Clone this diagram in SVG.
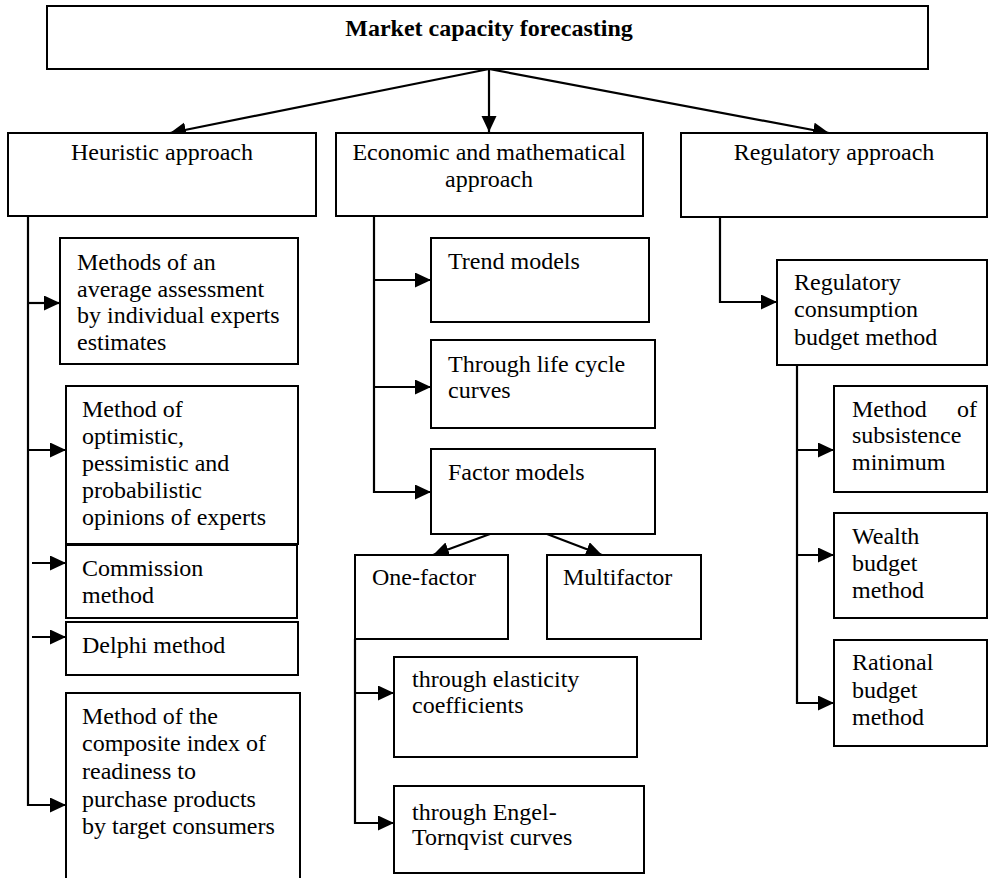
<svg xmlns="http://www.w3.org/2000/svg" width="988" height="878" viewBox="0 0 988 878">
<style>
.box{fill:#fff;stroke:#000;stroke-width:2}
.t{font-family:"Liberation Serif","Times New Roman",serif;font-size:24px;fill:#000}
.b{font-weight:bold;text-anchor:middle}
.c{text-anchor:middle}
.ln{fill:none;stroke:#000;stroke-width:2.2}
</style>
<defs>
<marker id="ah" markerUnits="userSpaceOnUse" markerWidth="18" markerHeight="16" refX="16" refY="7.5" orient="auto">
<path d="M0,0 L16,7.5 L0,15 z" fill="#000"/>
</marker>
</defs>
<g id="connectors">
<line class="ln" x1="489" y1="69" x2="489" y2="132" marker-end="url(#ah)"/>
<line class="ln" x1="489" y1="69" x2="170" y2="133" marker-end="url(#ah)"/>
<line class="ln" x1="489" y1="69" x2="829" y2="133" marker-end="url(#ah)"/>
<polyline class="ln" points="28,216 28,805 66,805" marker-end="url(#ah)"/>
<line class="ln" x1="28" y1="303" x2="60" y2="303" marker-end="url(#ah)"/>
<line class="ln" x1="28" y1="450" x2="66" y2="450" marker-end="url(#ah)"/>
<line class="ln" x1="32" y1="563" x2="66" y2="563" marker-end="url(#ah)"/>
<line class="ln" x1="32" y1="637" x2="66" y2="637" marker-end="url(#ah)"/>
<polyline class="ln" points="374,216 374,492 431,492" marker-end="url(#ah)"/>
<line class="ln" x1="374" y1="280" x2="431" y2="280" marker-end="url(#ah)"/>
<line class="ln" x1="374" y1="387" x2="431" y2="387" marker-end="url(#ah)"/>
<line class="ln" x1="490" y1="534" x2="433" y2="555" marker-end="url(#ah)"/>
<line class="ln" x1="547" y1="534" x2="602" y2="555" marker-end="url(#ah)"/>
<polyline class="ln" points="355,639 355,823 394,823" marker-end="url(#ah)"/>
<line class="ln" x1="355" y1="693" x2="394" y2="693" marker-end="url(#ah)"/>
<polyline class="ln" points="720,217 720,302 777,302" marker-end="url(#ah)"/>
<polyline class="ln" points="797,365 797,703 834,703" marker-end="url(#ah)"/>
<line class="ln" x1="797" y1="450" x2="834" y2="450" marker-end="url(#ah)"/>
<line class="ln" x1="797" y1="555" x2="834" y2="555" marker-end="url(#ah)"/>
</g>
<g id="n-top"><rect class="box" x="47" y="6" width="881" height="63"/><text class="t b" x="489" y="36">Market capacity forecasting</text></g>
<g id="n-heur"><rect class="box" x="8" y="133" width="308" height="83"/><text class="t c" x="162" y="160">Heuristic approach</text></g>
<g id="n-econ"><rect class="box" x="336" y="133" width="307" height="83"/><text class="t c" x="489" y="160">Economic and mathematical</text><text class="t c" x="489" y="187">approach</text></g>
<g id="n-reg"><rect class="box" x="681" y="133" width="306" height="84"/><text class="t c" x="834" y="160">Regulatory approach</text></g>
<g id="n-avg"><rect class="box" x="60" y="238" width="238" height="126"/><text class="t" x="77" y="270">Methods of an</text><text class="t" x="77" y="297">average assessment</text><text class="t" x="77" y="323">by individual experts</text><text class="t" x="77" y="350">estimates</text></g>
<g id="n-opt"><rect class="box" x="66" y="386" width="232" height="158"/><text class="t" x="82" y="417">Method of</text><text class="t" x="82" y="444">optimistic,</text><text class="t" x="82" y="471">pessimistic and</text><text class="t" x="82" y="498">probabilistic</text><text class="t" x="82" y="525">opinions of experts</text></g>
<g id="n-comm"><rect class="box" x="66" y="545" width="231" height="73"/><text class="t" x="82" y="576">Commission</text><text class="t" x="82" y="603">method</text></g>
<g id="n-delphi"><rect class="box" x="66" y="622" width="232" height="53"/><text class="t" x="82" y="653">Delphi method</text></g>
<g id="n-comp"><rect class="box" x="66" y="693" width="234" height="200"/><text class="t" x="82" y="724">Method of the</text><text class="t" x="82" y="751">composite index of</text><text class="t" x="82" y="779">readiness to</text><text class="t" x="82" y="807">purchase products</text><text class="t" x="82" y="834">by target consumers</text></g>
<g id="n-trend"><rect class="box" x="431" y="238" width="218" height="84"/><text class="t" x="448" y="269">Trend models</text></g>
<g id="n-life"><rect class="box" x="431" y="340" width="224" height="88"/><text class="t" x="448" y="372">Through life cycle</text><text class="t" x="448" y="398">curves</text></g>
<g id="n-factor"><rect class="box" x="431" y="449" width="224" height="85"/><text class="t" x="448" y="480">Factor models</text></g>
<g id="n-one"><rect class="box" x="355" y="555" width="153" height="84"/><text class="t" x="372" y="585">One-factor</text></g>
<g id="n-multi"><rect class="box" x="547" y="555" width="154" height="84"/><text class="t" x="563" y="585">Multifactor</text></g>
<g id="n-elast"><rect class="box" x="394" y="657" width="243" height="100"/><text class="t" x="412" y="687">through elasticity</text><text class="t" x="412" y="713">coefficients</text></g>
<g id="n-engel"><rect class="box" x="394" y="786" width="250" height="87"/><text class="t" x="412" y="820">through Engel-</text><text class="t" x="412" y="845">Tornqvist curves</text></g>
<g id="n-regcons"><rect class="box" x="777" y="260" width="210" height="105"/><text class="t" x="794" y="290">Regulatory</text><text class="t" x="794" y="317">consumption</text><text class="t" x="794" y="345">budget method</text></g>
<g id="n-subs"><rect class="box" x="834" y="386" width="153" height="106"/><text class="t" x="852" y="417">Method</text><text class="t" x="957" y="417">of</text><text class="t" x="852" y="443">subsistence</text><text class="t" x="852" y="470">minimum</text></g>
<g id="n-wealth"><rect class="box" x="834" y="513" width="153" height="105"/><text class="t" x="852" y="544">Wealth</text><text class="t" x="852" y="571">budget</text><text class="t" x="852" y="598">method</text></g>
<g id="n-rational"><rect class="box" x="834" y="640" width="153" height="106"/><text class="t" x="852" y="670">Rational</text><text class="t" x="852" y="698">budget</text><text class="t" x="852" y="725">method</text></g>
</svg>
